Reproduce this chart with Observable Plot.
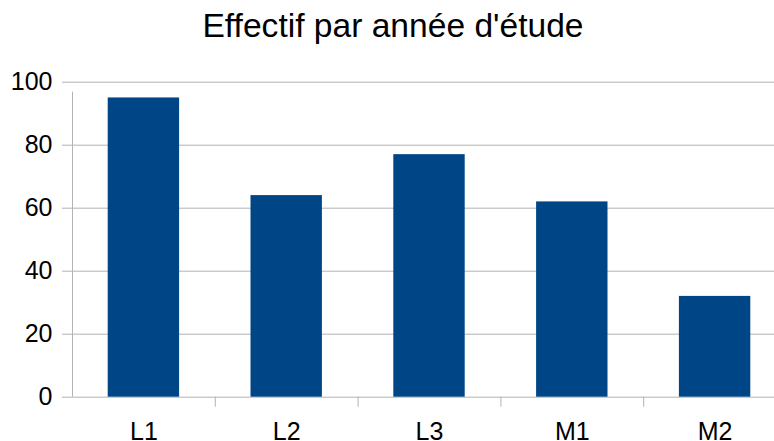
<!DOCTYPE html>
<html>
<head>
<meta charset="utf-8">
<script src="https://cdn.jsdelivr.net/npm/d3@7"></script>
<script src="https://cdn.jsdelivr.net/npm/@observablehq/plot@0.6"></script>
<style>
  html, body { margin: 0; padding: 0; background: white; overflow: hidden; width: 774px; height: 441px; }
  #title { height: 60px; box-sizing: border-box; padding-top: 8.5px; padding-left: 12px; text-align: center;
           font-family: "Liberation Sans", Arial, sans-serif; font-size: 33.6px; line-height: 33.6px; color: black; }
</style>
</head>
<body>
<div id="title">Effectif par année d'étude</div>
<div id="chart"></div>
<script>
const categories = ["L1", "L2", "L3", "M1", "M2"];
const values = [95, 64, 77, 62, 32];
const yTicks = [0, 20, 40, 60, 80, 100];

const data = categories.map((c, i) => ({cat: c, value: values[i]}));

const xRange = [72, 786];
const step = (xRange[1] - xRange[0]) / categories.length;
const grid = "#b3b3b3";

const chart = Plot.plot({
  width: 774,
  height: 381,
  marginLeft: 72,
  marginRight: 0,
  marginTop: 21.7,
  marginBottom: 44.3,
  style: {fontFamily: "Liberation Sans, Arial, sans-serif", fontSize: "25px", color: "black", background: "white", overflow: "hidden"},
  x: {domain: categories, range: xRange, paddingInner: 0.5, paddingOuter: 0.25, round: false, label: null},
  y: {domain: [0, 100], label: null},
  marks: [
    Plot.ruleY(yTicks, {stroke: grid, strokeWidth: 1}),
    Plot.ruleX(categories, {
      x: d => d, y1: 0, y2: d => d === categories[0] ? 100 : 0,
      insetBottom: -10, dx: -step / 2, stroke: grid, strokeWidth: 1
    }),
    Plot.barY(data, {x: "cat", y: "value", fill: "#004586"}),
    Plot.axisY({ticks: yTicks, tickSize: 10, tickPadding: 10, stroke: grid, fill: "black", fontSize: 25, label: null}),
    Plot.axisX({tickSize: 0, tickPadding: 25, fill: "black", fontSize: 25, label: null})
  ]
});
document.getElementById("chart").appendChild(chart);
</script>
</body>
</html>
